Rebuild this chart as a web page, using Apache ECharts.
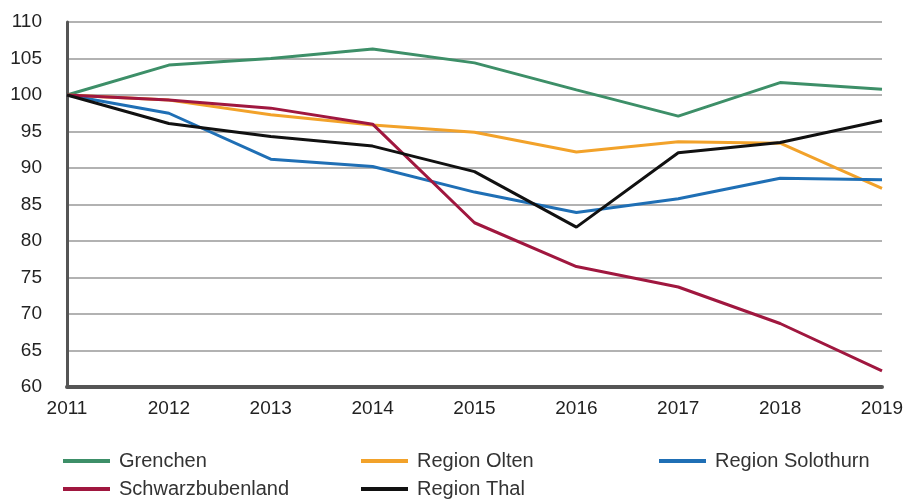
<!DOCTYPE html>
<html>
    <head>
        <meta charset="utf-8">
        <title>Index 2011 = 100</title>
        <script src="https://cdn.jsdelivr.net/npm/echarts@6/dist/echarts.min.js"></script>
        <style>
            html, body { margin: 0; padding: 0; background: #fff; }
            #chart { width: 909px; height: 499px; }
        </style>
    </head>
    <body>
        <div id="chart"></div>
        <script type="text/javascript">
            // Jahre und Indexwerte (2011 = 100)
            var years = ['2011', '2012', '2013', '2014', '2015', '2016', '2017', '2018', '2019'];
            var grenchen = [100, 104.1, 105.0, 106.3, 104.4, 100.7, 97.1, 101.7, 100.8];
            var olten = [100, 99.3, 97.3, 95.9, 94.9, 92.2, 93.6, 93.4, 87.2];
            var solothurn = [100, 97.5, 91.2, 90.2, 86.7, 83.9, 85.8, 88.6, 88.4];
            var schwarzbubenland = [100, 99.3, 98.2, 96.0, 82.5, 76.5, 73.7, 68.7, 62.2];
            var thal = [100, 96.1, 94.3, 93.0, 89.5, 81.9, 92.1, 93.5, 96.5];

            var axisFont = "'Liberation Sans', Arial, sans-serif";

            // eine Legende pro Eintrag, damit die Spalten wie im Original stehen
            function legendItem(left, top, name) {
                return {
                    left: left,
                    top: top,
                    padding: 0,
                    itemWidth: 47,
                    itemHeight: 4,
                    icon: 'rect',
                    selectedMode: false,
                    textStyle: { fontFamily: axisFont, fontSize: 20, color: '#333', padding: [0, 0, 0, 4] },
                    data: [name]
                };
            }

            function line(name, data, color) {
                return {
                    name: name,
                    type: 'line',
                    data: data,
                    symbol: 'none',
                    color: color,
                    lineStyle: { width: 3, color: color }
                };
            }

            var myChart = echarts.init(document.getElementById('chart'));
            myChart.setOption({
                animation: false,
                grid: { left: 67, right: 27, top: 22, bottom: 112 },
                legend: [
                    legendItem(63, 451, 'Grenchen'),
                    legendItem(361, 451, 'Region Olten'),
                    legendItem(659, 451, 'Region Solothurn'),
                    legendItem(63, 479, 'Schwarzbubenland'),
                    legendItem(361, 479, 'Region Thal')
                ],
                xAxis: {
                    type: 'category',
                    boundaryGap: false,
                    data: years,
                    axisLine: { lineStyle: { color: '#555', width: 4 } },
                    axisTick: { show: false },
                    axisLabel: { fontFamily: axisFont, fontSize: 19, color: '#222', margin: 12 }
                },
                yAxis: {
                    type: 'value',
                    min: 60,
                    max: 110,
                    interval: 5,
                    axisLine: { show: true, lineStyle: { color: '#555', width: 3 } },
                    axisTick: { show: false },
                    axisLabel: { fontFamily: axisFont, fontSize: 19, color: '#222', margin: 25 },
                    splitLine: { lineStyle: { color: '#999', width: 1.5 } }
                },
                series: [
                    line('Grenchen', grenchen, '#3d8f68'),
                    line('Region Olten', olten, '#f2a22a'),
                    line('Region Solothurn', solothurn, '#1f6fb5'),
                    line('Schwarzbubenland', schwarzbubenland, '#a0173f'),
                    line('Region Thal', thal, '#111111')
                ]
            });
        </script>
    </body>
</html>
